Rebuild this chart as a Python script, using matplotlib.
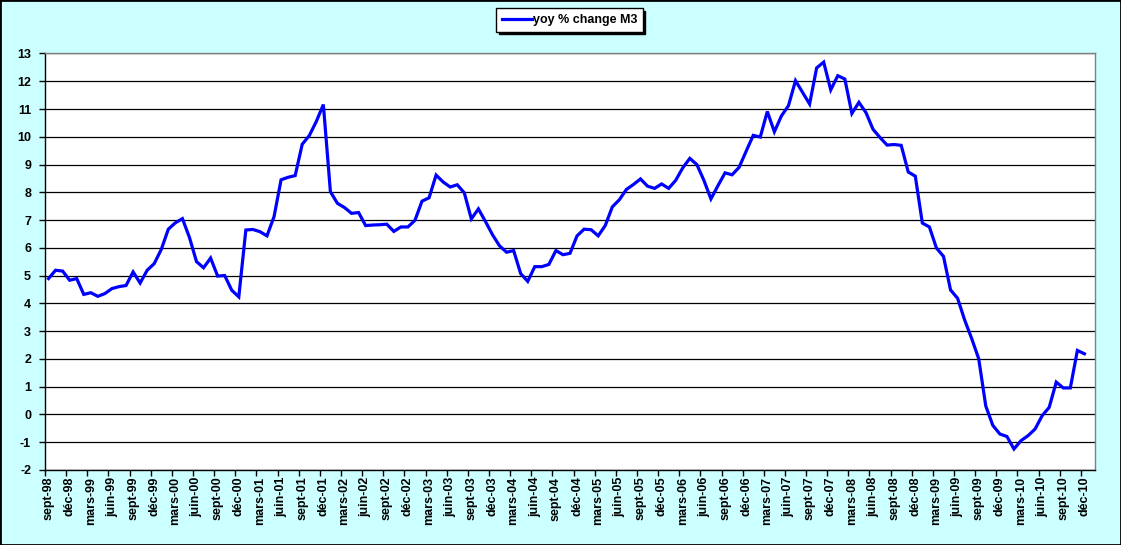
import matplotlib
matplotlib.use("Agg")
import matplotlib.pyplot as plt
from matplotlib.patches import Rectangle

plt.rcParams['font.family'] = ['Liberation Sans', 'DejaVu Sans']

# monthly yoy % change of M3, sept-98 .. déc-10
m3_yoy = [
    4.89, 5.19, 5.16, 4.83, 4.89, 4.32, 4.38, 4.25, 4.35, 4.53, 4.60, 4.64,
    5.13, 4.73, 5.19, 5.43, 5.94, 6.67, 6.90, 7.05, 6.37, 5.50, 5.28, 5.63,
    4.98, 5.00, 4.47, 4.23, 6.64, 6.66, 6.58, 6.43, 7.12, 8.45, 8.54, 8.60,
    9.73, 10.04, 10.55, 11.16, 8.02, 7.60, 7.45, 7.24, 7.27, 6.80, 6.82, 6.83,
    6.85, 6.59, 6.75, 6.75, 6.99, 7.68, 7.80, 8.62, 8.37, 8.19, 8.27, 7.98,
    7.04, 7.40, 6.95, 6.47, 6.07, 5.84, 5.90, 5.07, 4.79, 5.32, 5.32, 5.40,
    5.90, 5.75, 5.80, 6.43, 6.67, 6.65, 6.43, 6.80, 7.47, 7.73, 8.10, 8.28,
    8.48, 8.22, 8.14, 8.30, 8.14, 8.43, 8.88, 9.22, 9.00, 8.43, 7.76, 8.24,
    8.70, 8.63, 8.90, 9.48, 10.05, 9.99, 10.91, 10.18, 10.75, 11.12, 12.02, 11.60,
    11.18, 12.48, 12.69, 11.69, 12.20, 12.08, 10.84, 11.24, 10.87, 10.27, 9.97, 9.70,
    9.72, 9.69, 8.73, 8.58, 6.89, 6.75, 5.99, 5.69, 4.48, 4.18, 3.40, 2.73,
    2.00, 0.30, -0.40, -0.71, -0.80, -1.25, -0.95, -0.77, -0.53, -0.05, 0.25, 1.16,
    0.95, 0.95, 2.30, 2.18,
]
n_slots = 149  # the category axis has one empty slot after déc-10
label_months = ['sept', 'déc', 'mars', 'juin']
first_year = 1998
y_ticks = list(range(-2, 14))

tick_labels = []
for k in range(0, len(m3_yoy), 3):
    q = k // 3
    yr = first_year + (q + 2) // 4
    tick_labels.append(f"{label_months[q % 4]}-{yr % 100:02d}")

fig = plt.figure(figsize=(11.21, 5.45), dpi=100)
fig.patch.set_facecolor('#CCFFFF')
ax = fig.add_axes([45 / 1121, 1 - 469.8 / 545, 1050 / 1121, 416.3 / 545])
ax.set_facecolor('white')

x = list(range(len(m3_yoy)))
line, = ax.plot(x, m3_yoy, color='#0000FF', lw=2.3, solid_joinstyle='miter',
                label='yoy % change M3', zorder=3)

ax.set_xlim(-0.5, n_slots - 0.5)
ax.set_ylim(-2, 13)
ax.set_yticks(y_ticks)
ax.set_yticklabels([str(v) for v in y_ticks], fontsize=9, fontweight='bold')
ax.yaxis.grid(True, color='black', lw=0.9)
ax.set_axisbelow(True)

# tick marks on category boundaries, labels on category centres
ax.set_xticks([k - 0.5 for k in range(0, len(m3_yoy), 3)])
ax.set_xticklabels([])
ax.set_xticks(list(range(0, len(m3_yoy), 3)), minor=True)
ax.set_xticklabels(tick_labels, minor=True, rotation=90, fontsize=9,
                   fontweight='bold', va='top', ha='center')
ax.tick_params(axis='x', which='major', direction='out', length=4, width=1)
ax.tick_params(axis='x', which='minor', length=0, pad=5)
ax.tick_params(axis='y', direction='out', length=4, width=1, pad=6)

for side in ['left', 'bottom']:
    ax.spines[side].set_color('black')
    ax.spines[side].set_linewidth(1)
for side in ['top', 'right']:
    ax.spines[side].set_color('#808080')
    ax.spines[side].set_linewidth(1)

leg = fig.legend(handles=[line], loc='center', bbox_to_anchor=(569.5 / 1121, 1 - 20 / 545),
                 frameon=True, fancybox=False, edgecolor='black', framealpha=1,
                 prop={'weight': 'bold', 'size': 9}, handlelength=2.4, handletextpad=0.05,
                 borderpad=0.45, borderaxespad=0,
                 shadow={'color': 'black', 'alpha': 1, 'ox': 2, 'oy': -2})
leg.get_frame().set_linewidth(1)

fig.add_artist(Rectangle((0, 0), 1, 1, transform=fig.transFigure, fill=False,
                         edgecolor='black', lw=2))

fig.savefig('out.png', dpi=100, facecolor=fig.get_facecolor())
